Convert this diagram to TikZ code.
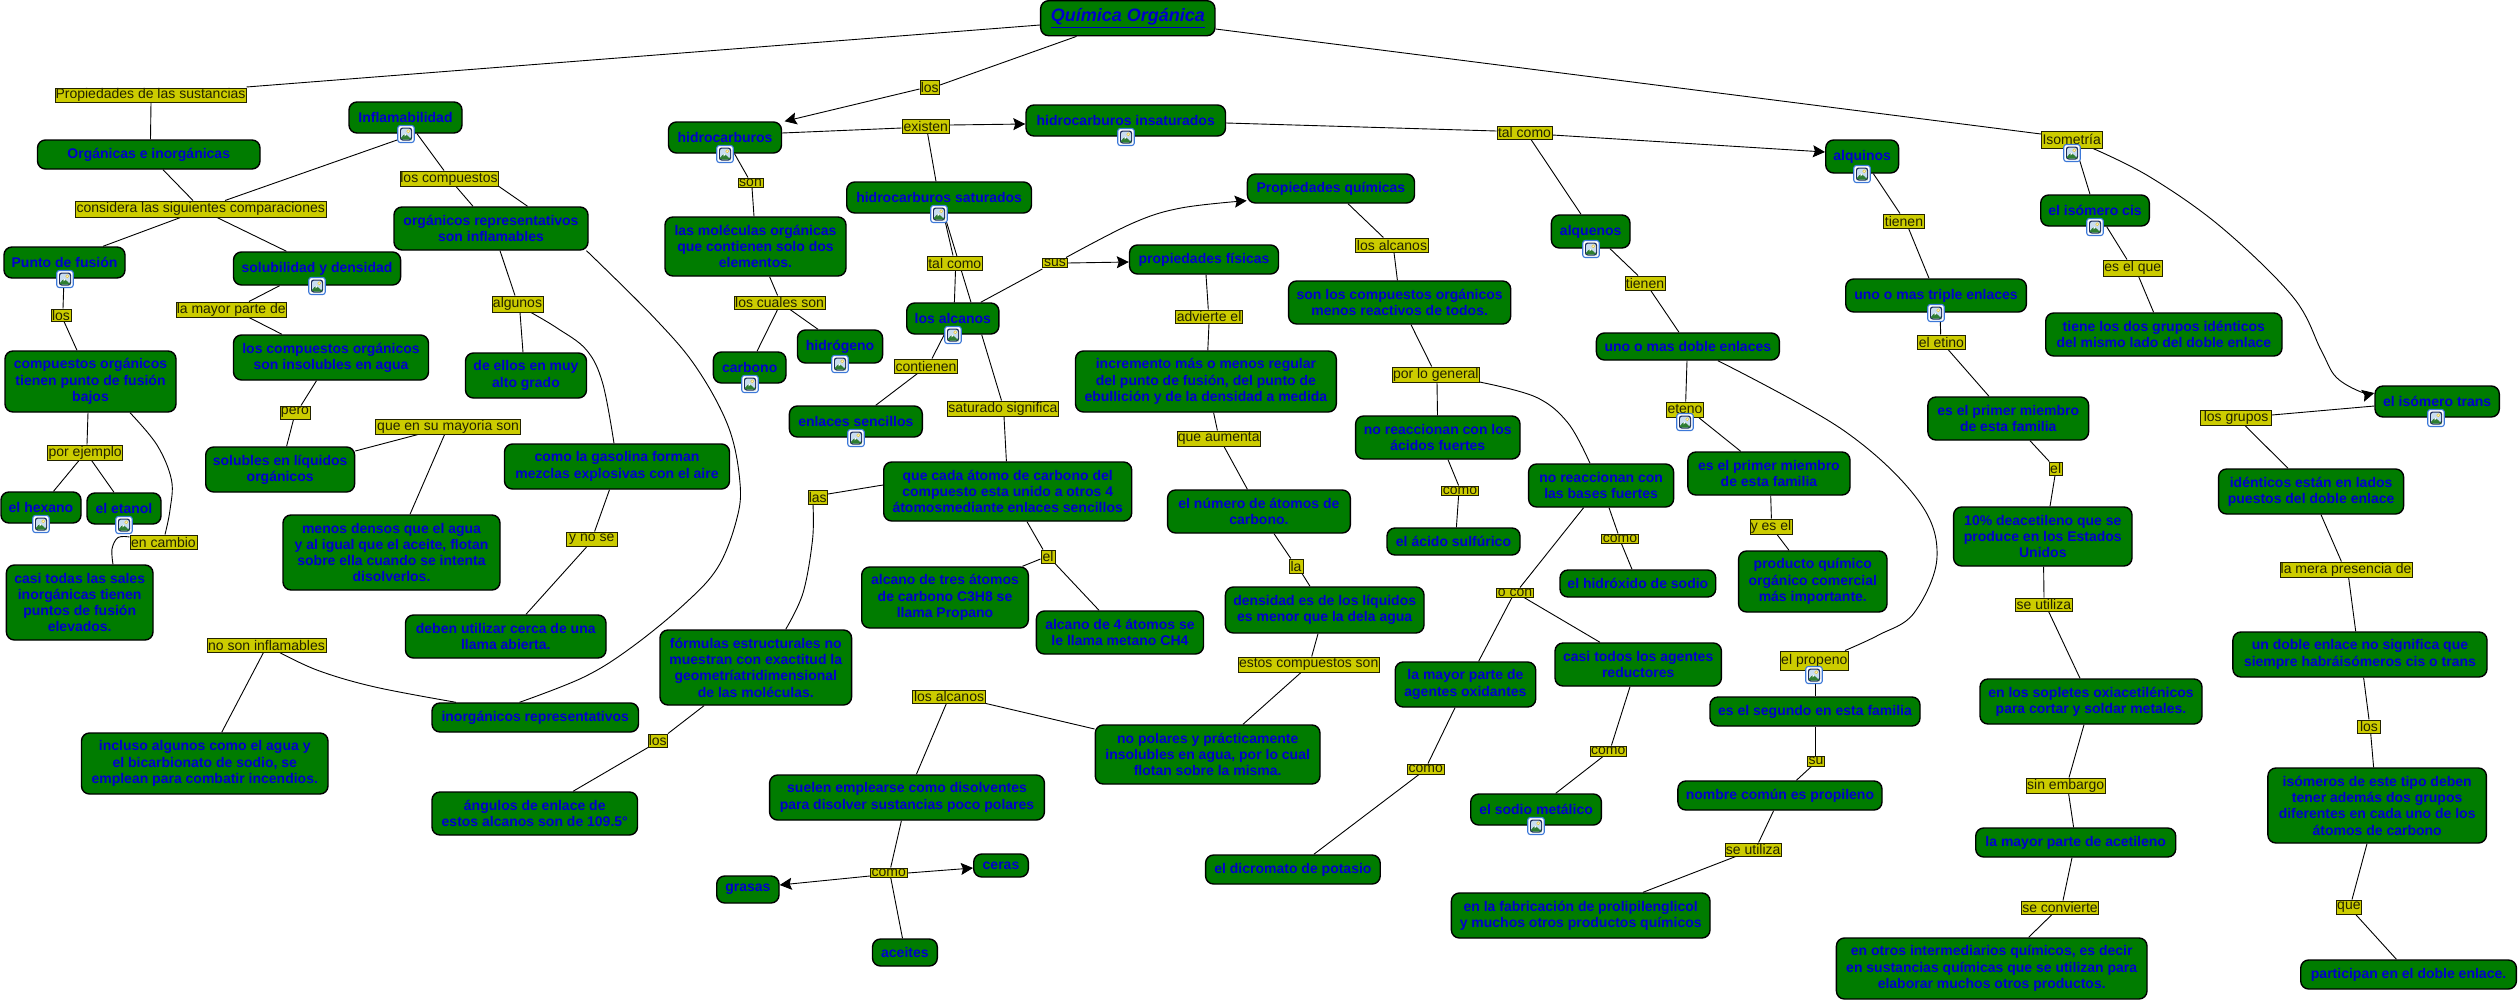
\documentclass[tikz,border=0pt]{standalone}
\usepackage{fontspec}
\setmainfont{Liberation Sans}
\usetikzlibrary{arrows.meta,backgrounds}
\definecolor{cfill}{HTML}{007C00}
\definecolor{ctext}{HTML}{0000CC}
\definecolor{lfill}{HTML}{CCCC00}
\definecolor{ltext}{HTML}{222200}
\definecolor{iblue}{HTML}{3C78D8}
\definecolor{inavy}{HTML}{1A2A5A}
\definecolor{isky}{HTML}{C9DDF0}
\definecolor{ihill}{HTML}{2E7D32}
\definecolor{isun}{HTML}{E8C93A}
\tikzset{
 concept/.style={draw=black,line width=1.4pt,fill=cfill,rounded corners=8pt,inner sep=0pt,align=center,text=ctext,font=\fontsize{14}{16.3}\selectfont\bfseries},
 linking/.style={draw=ltext,line width=1pt,fill=lfill,inner sep=0pt,align=center,text=ltext,font=\fontsize{14}{16.3}\selectfont},
 conn/.style={draw=black,line width=.9pt},
 tipconn/.style={conn,-{Stealth[length=12pt,width=12pt,inset=2pt]}},
 imgicon/.style={draw=iblue,fill=white,line width=1.1pt,rounded corners=2.5pt,minimum width=16.5pt,minimum height=17pt,inner sep=0pt,
  path picture={\begin{scope}[shift={(path picture bounding box.center)}]
   \fill[inavy] (-6,-6.5) rectangle (6,6.5);
   \fill[isky] (-5,-5.5) rectangle (5,5.5);
   \fill[isun] (2.2,-2.8) circle (1.9);
   \fill[white] (2.2,-2.8) circle (.8);
   \fill[ihill] (-5,5.5) -- (-5,3.6) -- (-1,-.6) -- (1.2,1.6) -- (5,4.4) -- (5,5.5) -- cycle;
   \fill[white] (-1,-.6) -- (.4,.8) -- (-1.6,2.4) -- cycle;
  \end{scope}}}
}
\newcommand{\Concept}[6]{\node[concept,minimum width={(#4-#2)*1pt},minimum height={(#5-#3)*1pt}] (#1) at ({(#2+#4)/2},{(#3+#5)/2}) {#6};}
\newcommand{\Linking}[6]{\node[linking,minimum width={(#4-#2)*1pt},minimum height={(#5-#3)*1pt}] (#1) at ({(#2+#4)/2},{(#3+#5)/2}) {#6};}
\newcommand{\Imgicon}[3]{\node[imgicon] (#1) at (#2,#3) {};}
\begin{document}
\begin{tikzpicture}[x=1pt,y=-1pt]
\useasboundingbox (0,0) rectangle (2520,1002);
% concepts
\node[concept,font=\fontsize{18}{20}\selectfont\bfseries\itshape,minimum width=174.3pt,minimum height=35pt] (quim) at (1127.8,18.2) {\underline{Química Orgánica}};
\Concept{infl}{349}{102}{462}{133}{Inflamabilidad}
\Concept{orgin}{37.5}{140}{260}{169}{Orgánicas e inorgánicas}
\Concept{orgrep}{394}{207}{588}{250}{orgánicos representativos\\son inflamables}
\Concept{punto}{4}{247}{125}{278}{Punto de fusión}
\Concept{solub}{233.5}{252}{400.6}{285}{solubilidad y densidad}
\Concept{compb}{5}{351}{176}{412}{compuestos orgánicos\\tienen punto de fusión\\bajos}
\Concept{insol}{233.5}{335}{428.5}{380}{los compuestos orgánicos\\son insolubles en agua}
\Concept{ellos}{465.5}{353}{586.5}{398}{de ellos en muy\\alto grado}
\Concept{solliq}{205.7}{447}{354.6}{492}{solubles en líquidos\\orgánicos}
\Concept{gasol}{504.5}{444}{729.5}{489}{como la gasolina forman\\mezclas explosivas con el aire}
\Concept{hidroc}{668.5}{122}{781.5}{153}{hidrocarburos}
\Concept{molec}{665}{217}{846}{276}{las moléculas orgánicas\\que contienen solo dos\\elementos.}
\Concept{hidrog}{797.5}{330}{882.6}{363}{hidrógeno}
\Concept{carbo}{713.4}{352}{786}{383}{carbono}
\Concept{hexano}{1}{492}{81}{523}{el hexano}
\Concept{etanol}{87}{493}{161}{524}{el etanol}
\Concept{sales}{6.4}{565}{153}{640}{casi todas las sales\\inorgánicas tienen\\ puntos de fusión\\elevados.}
\Concept{densos}{283}{515}{500}{590}{menos densos que el agua\\y al igual que el aceite, flotan\\sobre ella cuando se intenta\\disolverlos.}
\Concept{llama}{405.5}{615}{606}{658}{deben utilizar cerca de una\\llama abierta.}
\Concept{inorg}{432}{703}{638.5}{732}{inorgánicos representativos}
\Concept{incl}{81.5}{733}{328}{794}{incluso algunos como el agua y\\el bicarbionato de sodio, se\\emplean para combatir incendios.}
\Concept{formu}{660}{630}{851.6}{705}{fórmulas estructurales no\\muestran con exactitud la\\geometríatridimensional\\de las moléculas.}
\Concept{angul}{432}{792}{637.5}{835}{ángulos de enlace de\\estos alcanos son de 109.5°}
\Concept{grasas}{716.7}{876}{779}{903}{grasas}
\Concept{insat}{1026}{105}{1225.5}{136}{hidrocarburos insaturados}
\Concept{satur}{846.7}{182}{1031.5}{213}{hidrocarburos saturados}
\Concept{pquim}{1247.4}{174}{1414.5}{203}{Propiedades químicas}
\Concept{pfis}{1129.5}{245}{1278.5}{274}{propiedades físicas}
\Concept{menos}{1288.6}{281}{1510.7}{324}{son los compuestos orgánicos\\menos reactivos de todos.}
\Concept{alcan}{906.7}{303}{998.9}{334}{los alcanos}
\Concept{sencil}{789.4}{406}{922.3}{437}{enlaces sencillos}
\Concept{increm}{1075.5}{351}{1336.3}{412}{incremento más o menos regular\\del punto de fusión, del punto de\\ebullición y de la densidad a medida}
\Concept{acidos}{1355.6}{416}{1520}{459}{no reaccionan con los\\ácidos fuertes}
\Concept{cada}{883.7}{462}{1131.7}{521}{que cada átomo de carbono del\\compuesto esta unido a otros 4\\átomosmediante enlaces sencillos}
\Concept{numer}{1167.6}{490}{1350.3}{533}{el número de átomos de\\carbono.}
\Concept{sulfu}{1387}{528}{1520}{555}{el ácido sulfúrico}
\Concept{propa}{861.7}{567}{1028.3}{628}{alcano de tres átomos\\de carbono C3H8 se\\llama Propano}
\Concept{metan}{1036.4}{611}{1203.5}{654}{alcano de 4 átomos se\\le llama metano CH4}
\Concept{densid}{1225.4}{587}{1424}{633}{densidad es de los líquidos\\es menor que la dela agua}
\Concept{nopol}{1095.3}{725}{1320}{784}{no polares y prácticamente\\insolubles en agua, por lo cual\\flotan sobre la misma.}
\Concept{suelen}{769.6}{775}{1044.4}{820}{suelen emplearse como disolventes\\para disolver sustancias poco polares}
\Concept{ceras}{973.7}{854}{1028.3}{877}{ceras}
\Concept{aceit}{872.5}{939}{937.3}{966}{aceites}
\Concept{dicro}{1205.6}{855}{1380.2}{884}{el dicromato de potasio}
\Concept{oxid}{1395.2}{662}{1535.7}{707}{la mayor parte de\\agentes oxidantes}
\Concept{alqui}{1825.7}{140}{1898.6}{173}{alquinos}
\Concept{alque}{1551.4}{215}{1630}{248}{alquenos}
\Concept{cis}{2040.7}{195}{2149.3}{226}{el isómero cis}
\Concept{triple}{1845.7}{279}{2026.4}{312}{uno o mas triple enlaces}
\Concept{tiene}{2045.7}{313}{2282}{356}{tiene los dos grupos idénticos\\del mismo lado del doble enlace}
\Concept{doble}{1596.4}{333}{1779.3}{360}{uno o mas doble enlaces}
\Concept{primA}{1927.9}{397}{2088.6}{440}{es el primer miembro\\de esta familia}
\Concept{trans}{2375}{386}{2499.3}{417}{el isómero trans}
\Concept{ident}{2218.6}{469}{2403.6}{514}{idénticos están en lados\\puestos del doble enlace}
\Concept{bases}{1528.6}{464}{1673.6}{507}{no reaccionan con\\las bases fuertes}
\Concept{primB}{1687.9}{452}{1850}{495}{es el primer miembro\\de esta familia}
\Concept{hidrox}{1560}{570}{1715.7}{597}{el hidróxido de sodio}
\Concept{produ}{1738.6}{551}{1887}{612}{producto químico\\orgánico comercial\\más importante.}
\Concept{diez}{1953.6}{507}{2132}{566}{10\% deacetileno que se\\produce en los Estados\\Unidos}
\Concept{nosig}{2232.9}{632}{2487}{677}{un doble enlace no significa que\\siempre habráisómeros cis o trans}
\Concept{reduc}{1555}{643}{1721.4}{686}{casi todos los agentes\\reductores}
\Concept{segun}{1710}{697}{1920}{726}{es el segundo en esta familia}
\Concept{sople}{1980}{679}{2202}{724}{en los sopletes oxiacetilénicos\\para cortar y soldar metales.}
\Concept{sodio}{1470.7}{794}{1601.4}{825}{el sodio metálico}
\Concept{nombr}{1677.9}{781}{1882}{810}{nombre común es propileno}
\Concept{acetil}{1975.7}{828}{2175.7}{857}{la mayor parte de acetileno}
\Concept{isom}{2267.9}{768}{2486.4}{843}{isómeros de este tipo deben\\tener además dos grupos\\diferentes en cada uno de los\\átomos de carbono}
\Concept{fabri}{1451.4}{893}{1710}{938}{en la fabricación de prolipilenglicol\\y muchos otros productos químicos}
\Concept{otros}{1836.4}{938}{2147}{999}{en otros intermediarios químicos, es decir\\en sustancias químicas que se utilizan para\\elaborar muchos otros productos.}
\Concept{parti}{2300.7}{960}{2516.4}{989}{participan en el doble enlace.}
% linking phrases
\Linking{lprop}{55}{88}{246}{102}{Propiedades de las sustancias}
\Linking{lcons}{75.5}{201}{326}{217}{considera las siguientes comparaciones}
\Linking{lcomp}{400}{171}{498}{186}{los compuestos}
\Linking{lmay}{176}{302}{286.5}{317}{la mayor parte de}
\Linking{llos}{51}{309}{71}{321}{los}
\Linking{lalg}{492}{296}{543}{312}{algunos}
\Linking{lpero}{280}{406}{310}{419}{pero}
\Linking{lsumay}{375.5}{419}{520.6}{434}{que en su mayoria son}
\Linking{lejem}{47.7}{445}{122.7}{460}{por ejemplo}
\Linking{lson}{738}{178}{763}{187}{son}
\Linking{lcual}{734}{296}{825}{309}{los cuales son}
\Linking{lcamb}{130}{535}{197}{549}{en cambio}
\Linking{lnose}{566}{532}{617.5}{546}{y no se}
\Linking{lnoinf}{207}{638}{326}{652}{no son inflamables}
\Linking{llosb}{648}{734}{667.5}{747}{los}
\Linking{llosc}{920}{80}{939.5}{94}{los}
\Linking{lexis}{902}{119}{949.6}{133}{existen}
\Linking{ltalA}{927.6}{256}{982}{270}{tal como}
\Linking{lsus}{1042.8}{258}{1067}{267}{sus}
\Linking{lalcA}{1355.6}{238}{1428.4}{252}{los alcanos}
\Linking{lconti}{894.4}{359}{957.6}{373}{contienen}
\Linking{lsign}{947.4}{401}{1058.3}{416}{saturado significa}
\Linking{laum}{1177.2}{431}{1260.2}{446}{que aumenta}
\Linking{ladv}{1175.6}{310}{1242.6}{323}{advierte el}
\Linking{lgene}{1392.6}{367}{1479}{382}{por lo general}
\Linking{lcomoA}{1441.4}{486}{1478.6}{495}{como}
\Linking{llas}{808}{490}{827.5}{504}{las}
\Linking{lel}{1041}{550}{1055}{563}{el}
\Linking{lla}{1289}{559}{1303}{573}{la}
\Linking{lestos}{1238.3}{657}{1379}{672}{estos compuestos son}
\Linking{lalcB}{912.6}{690}{985.5}{703}{los alcanos}
\Linking{lcomoB}{870.3}{868}{907.3}{877}{como}
\Linking{lcomoC}{1407}{764}{1444.5}{774}{como}
\Linking{ltalB}{1497}{126}{1552}{139}{tal como}
\Linking{liso}{2041.4}{131}{2102}{148}{Isometría}
\Linking{ltenA}{1883.6}{214}{1924.3}{228}{tienen}
\Linking{lesq}{2103.6}{260}{2162}{276}{es el que}
\Linking{ltenB}{1625}{276}{1665}{290}{tienen}
\Linking{letin}{1917.9}{335}{1965}{349}{el etino}
\Linking{leten}{1666.4}{402}{1703.6}{417}{eteno}
\Linking{lgrup}{2200.7}{410}{2271.4}{425}{los grupos}
\Linking{lelb}{2049.3}{462}{2062}{475}{el}
\Linking{lcomoD}{1601.4}{534}{1638.6}{543}{como}
\Linking{locon}{1496.4}{588}{1533.6}{597}{o con}
\Linking{lyes}{1750}{519}{1792}{534}{y es el}
\Linking{lutiA}{2015.7}{598}{2072}{611}{se utiliza}
\Linking{lmera}{2280}{562}{2412}{577}{la mera presencia de}
\Linking{lprope}{1780}{651}{1848.6}{670}{el propeno}
\Linking{llosd}{2357.9}{720}{2380}{733}{los}
\Linking{lcomoE}{1590}{746}{1626.4}{756}{como}
\Linking{lsu}{1807.9}{756}{1824.3}{766}{su}
\Linking{lsine}{2026.4}{778}{2105}{793}{sin embargo}
\Linking{lutiB}{1725}{843}{1781.4}{856}{se utiliza}
\Linking{lconv}{2021.4}{901}{2098.6}{914}{se convierte}
\Linking{lque}{2336.4}{900}{2361.4}{914}{que}
% image icons
\Imgicon{iInfl}{406}{134}
\Imgicon{iHidr}{725}{154}
\Imgicon{iPunt}{65}{279}
\Imgicon{iSolu}{317}{286}
\Imgicon{iCarb}{750}{384}
\Imgicon{iHidg}{840}{364}
\Imgicon{iHexa}{41}{524}
\Imgicon{iEtan}{124}{525}
\Imgicon{iInsa}{1126}{137}
\Imgicon{iSatu}{939}{214}
\Imgicon{iAlca}{953}{335}
\Imgicon{iEnla}{856}{438}
\Imgicon{iAlqi}{1862}{174}
\Imgicon{iIsom}{2072}{153}
\Imgicon{iAlqe}{1591}{249}
\Imgicon{iCis}{2095}{227}
\Imgicon{iTrip}{1936}{313}
\Imgicon{iEten}{1685}{422}
\Imgicon{iTran}{2436}{418}
\Imgicon{iProp}{1814}{675}
\Imgicon{iSodi}{1536}{826}
\begin{scope}[on background layer]
\fill[white] (0,0) rectangle (2520,1002);
\draw[conn] (quim.west |- 0,25) -- (lprop.east |- 0,87);
\draw[conn] (lprop.south -| 151,0) -- (orgin.north -| 150.5,0);
\draw[conn] (orgin.south -| 163,0) -- (lcons.north -| 193,0);
\draw[conn] (infl.south -| 415,0) -- (lcons.north -| 225,0);
\draw[conn] (lcons.south -| 180.5,0) -- (punto.north -| 103,0);
\draw[conn] (lcons.south -| 217,0) -- (solub.north -| 286.5,0);
\draw[conn] (infl.south -| 417,0) -- (lcomp.north -| 444,0);
\draw[conn] (lcomp.south -| 456,0) -- (orgrep.north -| 473,0);
\draw[conn] (lcomp.south -| 499,0) -- (orgrep.north -| 527.6,0);
\draw[conn] (orgrep.south -| 500,0) -- (lalg.north -| 515,0);
\draw[conn] (lalg.south -| 520,0) -- (ellos.north -| 523,0);
\draw[conn] plot[smooth,tension=.6] coordinates {(lalg.south -| 531,0) (557,328) (586.5,350) (602.6,383) (gasol.north -| 614,0)};
\draw[conn] plot[smooth,tension=.6] coordinates {(orgrep.south -| 586.5,0) (653.5,317) (696,367) (728.5,427) (740,483) (736.5,520) (718,567) (685.6,603) (632,647) (584,677) (inorg.north -| 519.5,0)};
\draw[conn] (punto.south -| 64,0) -- (llos.north -| 63,0);
\draw[conn] (llos.south -| 64,0) -- (compb.north -| 77,0);
\draw[conn] (compb.south -| 88,0) -- (lejem.north -| 87,0);
\draw[conn] plot[smooth,tension=.6] coordinates {(compb.south -| 130,0) (157,445) (171.5,480) (170,510) (lcamb.north -| 165,0)};
\draw[conn] (lejem.south -| 79,0) -- (hexano.north -| 53.5,0);
\draw[conn] (lejem.south -| 91.6,0) -- (etanol.north -| 114,0);
\draw[conn] plot[smooth,tension=.6] coordinates {(lcamb.west |- 0,537) (118,537.5) (112,549) (sales.north -| 113,0)};
\draw[conn] (solub.south -| 279.6,0) -- (lmay.north -| 249,0);
\draw[conn] (lmay.south -| 249,0) -- (insol.north -| 282,0);
\draw[conn] (insol.south -| 316.5,0) -- (lpero.north -| 301,0);
\draw[conn] (lpero.south -| 293.5,0) -- (solliq.north -| 286.6,0);
\draw[conn] (solliq.east |- 0,451) -- (lsumay.south -| 418,0);
\draw[conn] (lsumay.south -| 444.6,0) -- (densos.north -| 410,0);
\draw[conn] (gasol.south -| 609.5,0) -- (lnose.north -| 594.6,0);
\draw[conn] (lnose.south -| 587,0) -- (llama.north -| 526,0);
\draw[conn] (lnoinf.south -| 263.5,0) -- (incl.north -| 221.7,0);
\draw[conn] plot[smooth,tension=.6] coordinates {(lnoinf.south -| 279.6,0) (318.7,670.7) (375,687) (inorg.north -| 456,0)};
\draw[conn] (quim.south -| 1076.5,0) -- (llosc.east |- 0,85);
\draw[tipconn] (llosc.west |- 0,89) -- (hidroc.north -| 784.6,0);
\draw[conn] (hidroc.east |- 0,133) -- (lexis.west |- 0,128);
\draw[tipconn] (lexis.east |- 0,125) -- (insat.west |- 0,124);
\draw[conn] (hidroc.south -| 734.5,0) -- (lson.north -| 748,0);
\draw[conn] (lson.south -| 752,0) -- (molec.north -| 754,0);
\draw[conn] (molec.south -| 769.6,0) -- (lcual.north -| 777.6,0);
\draw[conn] (lcual.south -| 777.6,0) -- (carbo.north -| 757,0);
\draw[conn] (lcual.south -| 790,0) -- (hidrog.north -| 818,0);
\draw[conn] (lexis.south -| 927.6,0) -- (satur.north -| 936,0);
\draw[conn] (satur.south -| 943.4,0) -- (ltalA.north -| 953,0);
\draw[conn] (ltalA.south -| 955.5,0) -- (alcan.north -| 954.4,0);
\draw[conn] (satur.south -| 944,0) -- (alcan.north -| 971,0);
\draw[conn] (alcan.south -| 981.7,0) -- (lsign.north -| 1001.5,0);
\draw[conn] (alcan.north -| 980.7,0) -- (lsus.west |- 0,269);
\draw[tipconn] (lsus.east |- 0,263) -- (pfis.west |- 0,262);
\draw[tipconn] plot[smooth,tension=.6] coordinates {(lsus.north -| 1066,0) (1133,223) (1181,208) (pquim.west |- 0,200.7)};
\draw[conn] (alcan.south -| 944.2,0) -- (lconti.north -| 932,0);
\draw[conn] (lconti.south -| 917.5,0) -- (sencil.north -| 875.7,0);
\draw[conn] (lsign.south -| 1004,0) -- (cada.north -| 1006.4,0);
\draw[conn] (pquim.south -| 1348,0) -- (lalcA.north -| 1383.4,0);
\draw[conn] (lalcA.south -| 1394,0) -- (menos.north -| 1397.4,0);
\draw[conn] (menos.south -| 1411,0) -- (lgene.north -| 1431.7,0);
\draw[conn] (lgene.south -| 1437,0) -- (acidos.north -| 1437.5,0);
\draw[conn] plot[smooth,tension=.6] coordinates {(lgene.east |- 0,382) (1535.7,397) (1568,423) (bases.north -| 1590,0)};
\draw[conn] (acidos.south -| 1448,0) -- (lcomoA.north -| 1458.6,0);
\draw[conn] (lcomoA.south -| 1458.6,0) -- (sulfu.north -| 1456.4,0);
\draw[conn] (pfis.south -| 1206,0) -- (ladv.north -| 1208.3,0);
\draw[conn] (ladv.south -| 1209,0) -- (increm.north -| 1207.8,0);
\draw[conn] (increm.south -| 1213.6,0) -- (laum.north -| 1217.4,0);
\draw[conn] (laum.south -| 1224,0) -- (numer.north -| 1247.4,0);
\draw[conn] (numer.south -| 1274,0) -- (lla.north -| 1290.8,0);
\draw[conn] (lla.south -| 1302,0) -- (densid.north -| 1310,0);
\draw[conn] (densid.south -| 1318,0) -- (lestos.north -| 1311.7,0);
\draw[conn] (lestos.south -| 1301,0) -- (nopol.north -| 1243,0);
\draw[conn] (cada.west |- 0,485) -- (llas.east |- 0,494);
\draw[conn] plot[smooth,tension=.6] coordinates {(llas.south -| 813,0) (812.5,540) (803,593) (formu.north -| 785.7,0)};
\draw[conn] (formu.south -| 704,0) -- (llosb.north -| 668,0);
\draw[conn] (llosb.south -| 648,0) -- (angul.north -| 573,0);
\draw[conn] (cada.south -| 1027,0) -- (lel.north -| 1043,0);
\draw[conn] (lel.west |- 0,559) -- (propa.north -| 1022.4,0);
\draw[conn] (lel.south -| 1055,0) -- (metan.north -| 1099,0);
\draw[conn] (lalcB.east |- 0,703.5) -- (nopol.west |- 0,729);
\draw[conn] (lalcB.south -| 946.4,0) -- (suelen.north -| 916.4,0);
\draw[conn] (suelen.south -| 901.4,0) -- (lcomoB.north -| 890.7,0);
\draw[conn] (lcomoB.south -| 890.7,0) -- (aceit.north -| 902.5,0);
\draw[tipconn] (lcomoB.west |- 0,876) -- (grasas.east |- 0,885);
\draw[tipconn] (lcomoB.east |- 0,873) -- (ceras.west |- 0,868);
\draw[conn] (quim.east |- 0,29) -- (liso.west |- 0,134);
\draw[conn] (insat.east |- 0,123) -- (ltalB.west |- 0,131);
\draw[tipconn] (ltalB.east |- 0,135) -- (alqui.west |- 0,152);
\draw[conn] (ltalB.south -| 1531,0) -- (alque.north -| 1581,0);
\draw[conn] (alque.south -| 1610,0) -- (ltenB.north -| 1638,0);
\draw[conn] (ltenB.south -| 1650.7,0) -- (doble.north -| 1679,0);
\draw[conn] (doble.south -| 1687,0) -- (leten.north -| 1685.7,0);
\draw[conn] (leten.south -| 1698.6,0) -- (primB.north -| 1740.7,0);
\draw[conn] (primB.south -| 1770.7,0) -- (lyes.north -| 1771.4,0);
\draw[conn] (lyes.south -| 1777,0) -- (produ.north -| 1789,0);
\draw[conn] plot[smooth,tension=.6] coordinates {(doble.south -| 1717.9,0) (1843,430) (1918,500) (1937,557) (1914,613) (1878.6,635) (lprope.north -| 1845,0)};
\draw[conn] (lprope.south -| 1815,0) -- (segun.north -| 1815,0);
\draw[conn] (segun.south -| 1815.7,0) -- (lsu.north -| 1815.7,0);
\draw[conn] (lsu.south -| 1811.4,0) -- (nombr.north -| 1796.4,0);
\draw[conn] (nombr.south -| 1773.6,0) -- (lutiB.north -| 1758.6,0);
\draw[conn] (lutiB.south -| 1735.7,0) -- (fabri.north -| 1643,0);
\draw[conn] (bases.south -| 1609,0) -- (lcomoD.north -| 1618,0);
\draw[conn] (lcomoD.south -| 1621.4,0) -- (hidrox.north -| 1632,0);
\draw[conn] (bases.south -| 1583.6,0) -- (locon.north -| 1520,0);
\draw[conn] (locon.south -| 1512,0) -- (oxid.north -| 1478.6,0);
\draw[conn] (locon.south -| 1524,0) -- (reduc.north -| 1600,0);
\draw[conn] (oxid.south -| 1455,0) -- (lcomoC.north -| 1428,0);
\draw[conn] (lcomoC.south -| 1419,0) -- (dicro.north -| 1313.8,0);
\draw[conn] (reduc.south -| 1630,0) -- (lcomoE.north -| 1611.4,0);
\draw[conn] (lcomoE.south -| 1603,0) -- (sodio.north -| 1555.7,0);
\draw[conn] (alqui.south -| 1873.4,0) -- (ltenA.north -| 1900,0);
\draw[conn] (ltenA.south -| 1908.6,0) -- (triple.north -| 1929,0);
\draw[conn] (triple.south -| 1940,0) -- (letin.north -| 1940.7,0);
\draw[conn] (letin.south -| 1948,0) -- (primA.north -| 1989,0);
\draw[conn] (primA.south -| 2030,0) -- (lelb.north -| 2049.3,0);
\draw[conn] (lelb.south -| 2055,0) -- (diez.north -| 2050,0);
\draw[conn] (diez.south -| 2043.6,0) -- (lutiA.north -| 2044,0);
\draw[conn] (lutiA.south -| 2048.6,0) -- (sople.north -| 2080,0);
\draw[conn] (sople.south -| 2084,0) -- (lsine.north -| 2069,0);
\draw[conn] (lsine.south -| 2068.6,0) -- (acetil.north -| 2073.6,0);
\draw[conn] (acetil.south -| 2072,0) -- (lconv.north -| 2063,0);
\draw[conn] (lconv.south -| 2052,0) -- (otros.north -| 2028.6,0);
\draw[conn] (liso.south -| 2076,0) -- (cis.north -| 2090,0);
\draw[conn] (cis.south -| 2106.7,0) -- (lesq.north -| 2127,0);
\draw[conn] (lesq.south -| 2138.6,0) -- (tiene.north -| 2153.6,0);
\draw[tipconn] plot[smooth,tension=.6] coordinates {(liso.south -| 2093,0) (2150,177) (2221,227) (2293,297) (2321,350) (2336,377) (2361,392) (trans.west |- 0,393)};
\draw[conn] (trans.west |- 0,406) -- (lgrup.east |- 0,415);
\draw[conn] (lgrup.south -| 2245,0) -- (ident.north -| 2288,0);
\draw[conn] (ident.south -| 2321,0) -- (lmera.north -| 2341.4,0);
\draw[conn] (lmera.south -| 2348.6,0) -- (nosig.north -| 2355.7,0);
\draw[conn] (nosig.south -| 2363.6,0) -- (llosd.north -| 2369,0);
\draw[conn] (llosd.south -| 2370.7,0) -- (isom.north -| 2373.6,0);
\draw[conn] (isom.south -| 2367,0) -- (lque.north -| 2352,0);
\draw[conn] (lque.south -| 2355.7,0) -- (parti.north -| 2396.4,0);
\end{scope}
\end{tikzpicture}
\end{document}
